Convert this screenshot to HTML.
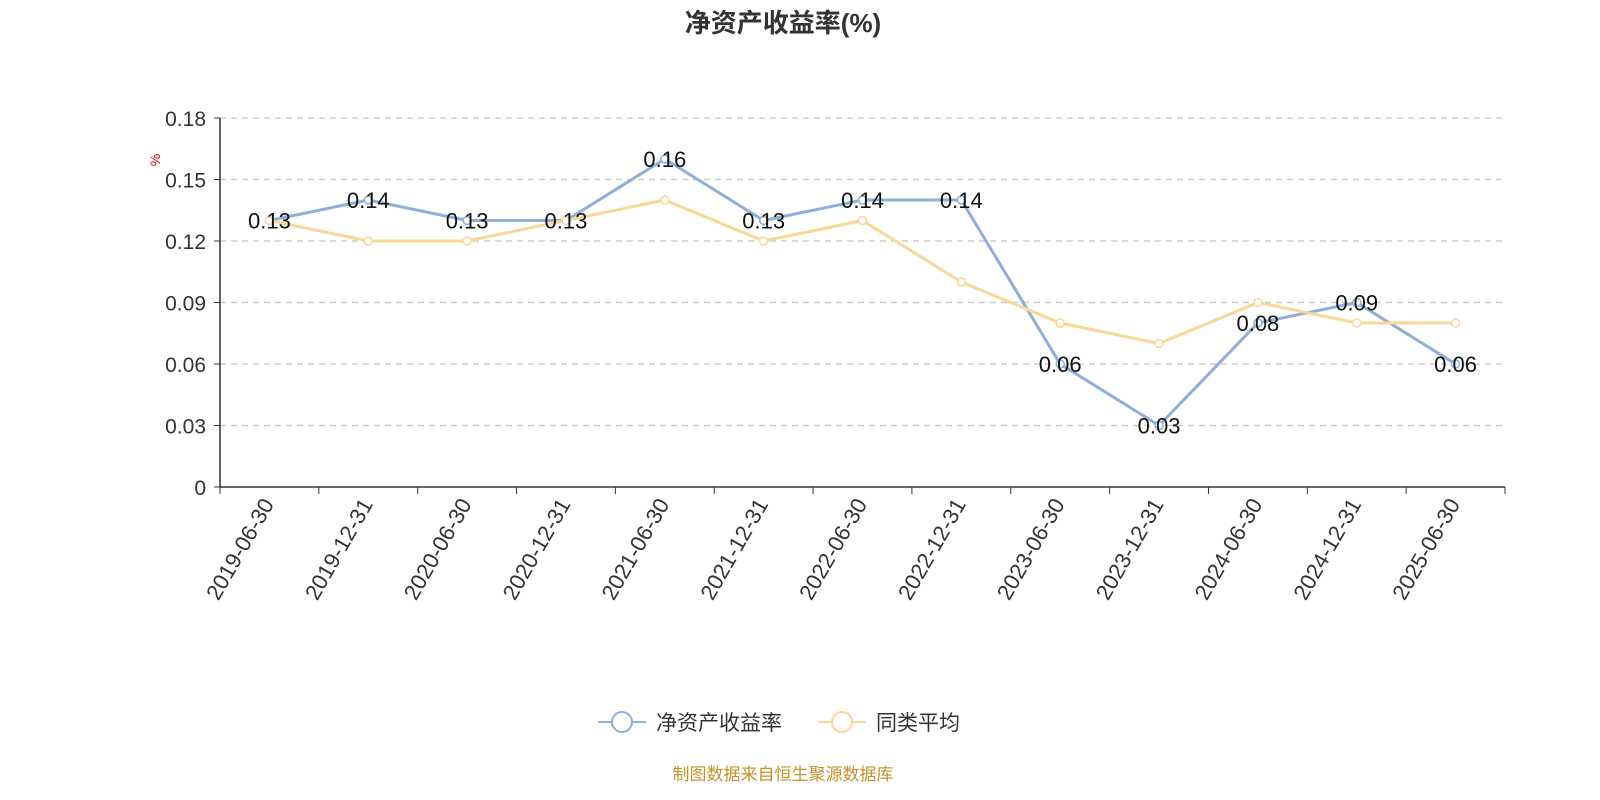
<!DOCTYPE html>
<html><head><meta charset="utf-8">
<style>
body{margin:0;background:#fff;}
svg{display:block;font-family:"Liberation Sans","Noto Sans CJK SC",sans-serif;}
</style></head>
<body>
<svg id="chart" width="1600" height="800" viewBox="0 0 1600 800">
<text x="783" y="32" text-anchor="middle" font-size="26" font-weight="bold" fill="#333">净资产收益率(%)</text>
<text x="160" y="160" font-size="14" fill="#e00" transform="rotate(-90 160 160)" text-anchor="middle">%</text>
<g id="grid"></g><g id="axes"></g><g id="series"></g>
<g>
<g>
<line x1="598" y1="722" x2="646" y2="722" stroke="#8eaedb" stroke-width="2"/>
<circle cx="622" cy="722" r="10" fill="#fff" stroke="#8eaedb" stroke-width="2"/>
<text x="656" y="730" font-size="21" fill="#333">净资产收益率</text></g>
<g>
<line x1="818" y1="722" x2="866" y2="722" stroke="#fad797" stroke-width="2"/>
<circle cx="842" cy="722" r="10" fill="#fff" stroke="#fad797" stroke-width="2"/>
<text x="876" y="730" font-size="21" fill="#333">同类平均</text></g>
</g>
<text x="783" y="780" text-anchor="middle" font-size="17" fill="#c8922a">制图数据来自恒生聚源数据库</text>
</svg>
<script>
const categories=["2019-06-30","2019-12-31","2020-06-30","2020-12-31","2021-06-30","2021-12-31","2022-06-30","2022-12-31","2023-06-30","2023-12-31","2024-06-30","2024-12-31","2025-06-30"];
const roeValues=[0.13,0.14,0.13,0.13,0.16,0.13,0.14,0.14,0.06,0.03,0.08,0.09,0.06];
const peerValues=[0.13,0.12,0.12,0.13,0.14,0.12,0.13,0.10,0.08,0.07,0.09,0.08,0.08];
const yTicks=[0,0.03,0.06,0.09,0.12,0.15,0.18];
const yTickLabels=["0","0.03","0.06","0.09","0.12","0.15","0.18"];

const NS="http://www.w3.org/2000/svg";
const X0=220,X1=1505,Y0=487,Y1=118,YMAX=0.18;
const step=(X1-X0)/categories.length;
const xPos=i=>X0+step*(i+0.5);
const yPos=v=>Y0-(v/YMAX)*(Y0-Y1);
function mk(tag,attrs,parent){const e=document.createElementNS(NS,tag);for(const k in attrs)e.setAttribute(k,attrs[k]);parent.appendChild(e);return e;}
const grid=document.getElementById('grid'),axes=document.getElementById('axes'),series=document.getElementById('series');
yTicks.forEach((t,i)=>{
  const y=yPos(t);
  if(t>0){const g=mk('line',{x1:X0,x2:X1,y1:y,y2:y,stroke:'#ccc','stroke-dasharray':'6,5','stroke-width':1.5},grid);
  
  }
  const tk=mk('line',{x1:X0-6,x2:X0,y1:y,y2:y,stroke:'#333'},axes);
  
  
  const lb=mk('text',{x:X0-14,y:y+8,'text-anchor':'end','font-size':21,fill:'#333'},axes);
  lb.textContent=yTickLabels[i];
  
  
});
const ya=mk('line',{x1:X0,x2:X0,y1:Y1,y2:Y0,stroke:'#333','stroke-width':1.5},axes);


const xa=mk('line',{x1:X0,x2:X1,y1:Y0,y2:Y0,stroke:'#333','stroke-width':1.5},axes);


for(let i=0;i<=categories.length;i++){
  const x=X0+step*i;
  const t=mk('line',{x1:x,x2:x,y1:Y0,y2:Y0+7,stroke:'#333'},axes);
  
  
}
categories.forEach((c,i)=>{
  const x=xPos(i),y=Y0+14;
  const t=mk('text',{x:x,y:y+6,'text-anchor':'end','font-size':22,fill:'#333',transform:`rotate(-60 ${x} ${y})`},axes);
  t.textContent=c;
  
  
});
function drawSeries(vals,color,name){
  const pts=vals.map((v,i)=>xPos(i)+','+yPos(v)).join(' ');
  const pl=mk('polyline',{points:pts,fill:'none',stroke:color,'stroke-width':3},series);
  
  
  vals.forEach((v,i)=>{
    const c=mk('circle',{cx:xPos(i),cy:yPos(v),r:4,fill:'#fff',stroke:color,'stroke-width':1.5},series);
    
    
  });
}
drawSeries(roeValues,'#8eaedb','roe');
drawSeries(peerValues,'#fad797','peer-average');
roeValues.forEach((v,i)=>{
  const t=mk('text',{x:xPos(i),y:yPos(v)+8,'text-anchor':'middle','font-size':22,fill:'#111'},series);
  t.textContent=v.toFixed(2);
  
  
});
</script>
</body></html>
